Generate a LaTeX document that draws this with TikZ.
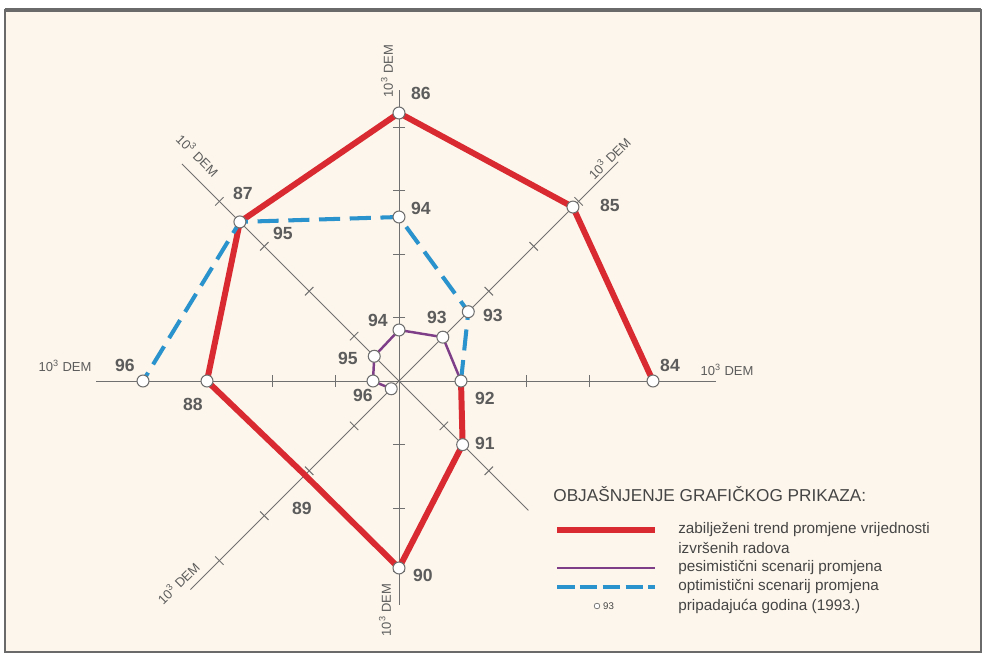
\documentclass[tikz,border=0pt]{standalone}
\usepackage{fontspec}
\setmainfont{Liberation Sans}
\usetikzlibrary{positioning}
\definecolor{trendred}{HTML}{D82A30}
\definecolor{pessviolet}{HTML}{7F3F88}
\definecolor{optblue}{HTML}{2A92CC}
\definecolor{axisgray}{HTML}{707070}
\definecolor{numgray}{HTML}{5C5C5C}
\definecolor{legendgray}{HTML}{454545}
\definecolor{bgcream}{HTML}{FDF6EC}
\definecolor{framegray}{HTML}{6A6A6A}

\begin{document}
\begin{tikzpicture}[x=0.02cm, y=0.02cm]
      % Define styles
      \tikzstyle{axis} = [draw=axisgray, line width=0.55pt]
      \tikzstyle{trend} = [draw=trendred, line width=3.4pt, line join=round]
      \tikzstyle{pessim} = [draw=pessviolet, line width=1.4pt, line join=round]
      \tikzstyle{optim} = [draw=optblue, line width=2.3pt, dash pattern=on 12pt off 5.5pt]
      \tikzstyle{pt} = [circle, draw=axisgray, fill=white, line width=0.6pt, inner sep=0pt, minimum size=6.8pt]
      \tikzstyle{num} = [font=\bfseries\fontsize{10}{12}\selectfont, text=numgray, inner sep=0pt]
      \tikzstyle{unit} = [font=\fontsize{7.4}{9}\selectfont, text=numgray, inner sep=0pt]
      \tikzstyle{legtext} = [anchor=west, font=\fontsize{8.7}{10}\selectfont, text=legendgray, inner sep=0pt]

      % Frame
      \useasboundingbox (-399,-278) rectangle (588,381);
      \fill[white] (-399,-278) rectangle (588,381);
      \draw[fill=bgcream, draw=framegray, line width=0.8pt] (-394,-271) rectangle (582,371);
      \draw[framegray, line width=1.8pt] (-394,371) -- (582,371);

      % Axes with ticks
      \coordinate (O) at (0,0);
      \foreach \name/\ang/\len/\nt in {E/0/317/4, NE/45/310/4, N/90/291/4, NW/135/307/4, W/180/303/4, SW/225/295/4, S/270/224/3, SE/315/183/2} {
        \coordinate (end\name) at (\ang:\len);
        \draw[axis] (O) -- (end\name);
        \foreach \k in {1,...,\nt}
          \draw[axis, rotate=\ang] (\k*63.5,-6) -- (\k*63.5,6);
      }

      % Axis units
      \node[unit, rotate=90] (unitN) at (-12,310) {10\textsuperscript{3} DEM};
      \node[unit, rotate=90] (unitS) at (-14,-229) {10\textsuperscript{3} DEM};
      \node[unit] (unitW) at (-334,15) {10\textsuperscript{3} DEM};
      \node[unit] (unitE) at (328,11) {10\textsuperscript{3} DEM};
      \node[unit, rotate=45] (unitNE) at (210,223) {10\textsuperscript{3} DEM};
      \node[unit, rotate=-45] (unitNW) at (-201,226) {10\textsuperscript{3} DEM};
      \node[unit, rotate=45] (unitSW) at (-221,-202) {10\textsuperscript{3} DEM};

      % Yearly values
      \coordinate (c84) at (0:254);
      \coordinate (c85) at (45:246);
      \coordinate (c86) at (90:268);
      \coordinate (c87) at (135:225);
      \coordinate (c88) at (180:192);
      \coordinate (c89) at (225:133);
      \coordinate (c90) at (270:187);
      \coordinate (c91) at (315:90);
      \coordinate (c92) at (0:62);
      \coordinate (b93) at (45:98);
      \coordinate (b94) at (90:164);
      \coordinate (b96) at (180:256);
      \coordinate (q93) at (45:62);
      \coordinate (q94) at (90:51);
      \coordinate (q95) at (135:35);
      \coordinate (q96) at (180:26);
      \coordinate (q97) at (225:11);

      % Draw lines
      \draw[trend] (c84) -- (c85) -- (c86) -- (c87) -- (c88) -- (c89) -- (c90) -- (c91) -- (c92);
      \draw[pessim] (c92) -- (q93) -- (q94) -- (q95) -- (q96) -- (q97);
      \draw[optim] (c92) -- (b93) -- (b94) -- (c87) -- (b96);

      % Place points
      \foreach \p in {c84,c85,c86,c87,c88,c90,c91,c92,b93,b94,b96,q93,q94,q95,q96,q97}
        \node[pt] (pt\p) at (\p) {};

      % Year labels
      \node[num] (l86) at (22,288) {86};
      \node[num] (l85) at (211,176) {85};
      \node[num] (l84) at (271,16) {84};
      \node[num] (l87) at (-156,188) {87};
      \node[num] (l95b) at (-116,148) {95};
      \node[num] (l94b) at (22,173) {94};
      \node[num] (l93b) at (94,66) {93};
      \node[num] (l92) at (86,-17) {92};
      \node[num] (l91) at (86,-62) {91};
      \node[num] (l90) at (24,-194) {90};
      \node[num] (l89) at (-97,-127) {89};
      \node[num] (l88) at (-206,-23) {88};
      \node[num] (l96b) at (-274,16) {96};
      \node[num] (l94q) at (-21,61) {94};
      \node[num] (l93q) at (38,64) {93};
      \node[num] (l95q) at (-51,23) {95};
      \node[num] (l96q) at (-36,-14) {96};

      % Legend
      \node[anchor=west, font=\fontsize{9.8}{12}\selectfont, text=legendgray, inner sep=0pt] (legtitle) at (154,-113) {OBJAŠNJENJE GRAFIČKOG PRIKAZA:};
      \coordinate (legA1) at (158,-149); \coordinate (legA2) at (256,-149);
      \coordinate (legB1) at (158,-187); \coordinate (legB2) at (256,-187);
      \coordinate (legC1) at (158,-206); \coordinate (legC2) at (256,-206);
      \draw[trend] (legA1) -- (legA2);
      \draw[pessim] (legB1) -- (legB2);
      \draw[optim, dash pattern=on 10pt off 3pt] (legC1) -- (legC2);
      \node[pt, minimum size=3.2pt, line width=0.4pt] (legpt) at (198,-225) {};
      \node[right=1.5pt of legpt, font=\fontsize{5.5}{6}\selectfont, text=legendgray, inner sep=0pt] (legyear) {93};
      \node[legtext] (txtA) at (279,-149) {zabilježeni trend promjene vrijednosti};
      \node[legtext] (txtA2) at (279,-167) {izvršenih radova};
      \node[legtext] (txtB) at (279,-187) {pesimistični scenarij promjena};
      \node[legtext] (txtC) at (279,-206) {optimistični scenarij promjena};
      \node[legtext] (txtD) at (279,-225) {pripadajuća godina (1993.)};
\end{tikzpicture}
\end{document}
